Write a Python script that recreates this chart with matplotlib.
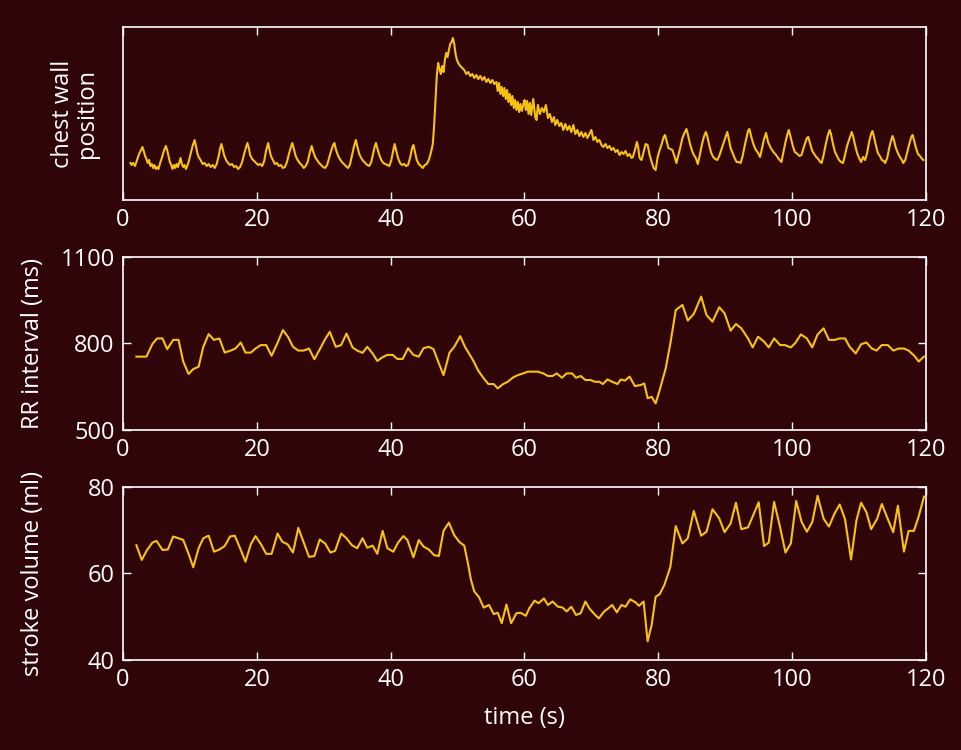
import matplotlib
matplotlib.use("Agg")
import matplotlib.pyplot as plt

# ---------------- data ----------------
chest_t = [1.1,1.3,1.5,1.8,2.1,2.4,2.7,2.9,3.1,3.3,3.5,3.7,3.9,4.1,4.3,4.5,4.7,4.9,5.1,5.3,5.5,5.8,6.1,6.4,6.6,6.8,7.0,7.2,7.4,7.6,7.8,8.0,8.2,8.4,8.6,8.8,9.0,9.2,9.4,9.6,9.8,10.1,10.4,10.7,10.9,11.1,11.3,11.6,11.9,12.2,12.5,12.8,13.1,13.4,13.7,14.0,14.3,14.5,14.7,14.9,15.1,15.4,15.7,16.0,16.3,16.6,16.9,17.2,17.5,17.8,18.1,18.4,18.6,18.8,19.0,19.3,19.6,19.9,20.2,20.5,20.8,21.1,21.4,21.7,21.9,22.1,22.4,22.7,23.0,23.3,23.6,23.9,24.2,24.5,24.8,25.1,25.3,25.5,25.8,26.1,26.4,26.7,27.0,27.3,27.6,27.9,28.2,28.4,28.7,29.0,29.3,29.6,29.9,30.2,30.5,30.8,31.1,31.4,31.6,31.8,32.1,32.4,32.7,33.0,33.3,33.6,33.9,34.2,34.5,34.8,35.0,35.3,35.6,35.9,36.2,36.5,36.8,37.1,37.4,37.6,37.8,38.0,38.3,38.6,38.9,39.2,39.5,39.8,40.1,40.4,40.6,40.8,41.1,41.4,41.7,42.0,42.3,42.6,42.9,43.2,43.4,43.6,43.9,44.2,44.5,44.8,45.1,45.4,45.7,46.0,46.3,46.5,46.7,46.9,47.1,47.3,47.5,47.7,47.9,48.1,48.3,48.5,48.7,48.9,49.1,49.3,49.5,49.7,49.9,50.1,50.4,50.7,51.0,51.3,51.6,51.9,52.2,52.5,52.8,53.1,53.4,53.7,54.0,54.3,54.6,54.9,55.2,55.5,55.8,56.0,56.2,56.4,56.6,56.8,57.0,57.2,57.4,57.6,57.8,58.0,58.2,58.4,58.6,58.8,59.0,59.2,59.4,59.6,59.8,60.0,60.2,60.4,60.6,60.8,61.0,61.3,61.6,61.8,62.0,62.3,62.6,62.9,63.2,63.5,63.8,64.1,64.4,64.6,64.9,65.2,65.5,65.8,66.1,66.4,66.7,67.0,67.3,67.6,67.9,68.2,68.5,68.8,69.1,69.4,69.7,70.0,70.3,70.6,70.9,71.2,71.5,71.8,72.1,72.4,72.7,73.0,73.3,73.6,73.9,74.2,74.5,74.8,75.1,75.4,75.7,76.0,76.2,76.5,76.8,77.0,77.2,77.5,77.8,78.1,78.4,78.7,79.0,79.3,79.6,79.9,80.2,80.5,80.8,81.0,81.2,81.5,81.8,82.1,82.4,82.7,83.0,83.3,83.6,83.9,84.2,84.4,84.7,85.0,85.3,85.6,85.9,86.2,86.5,86.8,87.1,87.3,87.6,87.9,88.2,88.5,88.8,89.1,89.5,89.8,90.1,90.3,90.5,90.8,91.1,91.4,91.7,92.0,92.3,92.6,92.9,93.2,93.4,93.6,93.9,94.2,94.5,94.9,95.2,95.5,95.8,96.1,96.4,96.8,97.2,97.6,98.0,98.4,98.7,99.0,99.3,99.5,99.8,100.1,100.4,100.8,101.1,101.4,101.7,102.0,102.2,102.4,102.7,103.0,103.3,103.6,103.9,104.2,104.4,104.7,105.0,105.3,105.6,105.8,106.1,106.4,106.7,107.0,107.3,107.6,107.9,108.2,108.6,108.9,109.1,109.4,109.7,110.0,110.3,110.6,110.9,111.2,111.5,111.8,112.0,112.2,112.5,112.8,113.1,113.4,113.7,113.9,114.2,114.5,114.8,115.0,115.2,115.5,115.8,116.1,116.4,116.6,116.9,117.2,117.5,117.8,118.0,118.2,118.5,118.8,119.1,119.3,119.6]
chest_v = [37,35,37,34,40,46,50,53,49,44,41,37,40,34,36,32,35,31,33,31,36,42,49,54,50,44,38,35,31,35,32,36,33,37,42,36,33,35,31,34,38,46,54,60,54,47,43,40,36,37,34,36,33,35,32,36,44,51,56,51,45,40,37,35,36,33,34,31,33,38,46,53,57,52,45,41,39,37,35,36,34,39,50,57,50,44,40,36,37,34,35,32,33,38,46,53,57,52,44,40,37,35,32,34,38,47,54,49,43,40,37,35,33,32,35,42,49,55,57,51,45,41,38,36,34,32,35,44,53,60,54,46,42,39,37,35,34,38,47,53,57,52,45,40,37,36,35,34,40,50,56,50,42,37,35,36,34,35,42,52,55,49,40,36,34,32,35,36,40,47,56,75,100,125,137,131,126,134,128,140,147,143,150,156,158,162,156,146,140,137,134,132,130,126,128,124,126,122,125,121,124,120,123,118,121,117,120,116,118,109,117,106,113,104,112,101,110,98,106,95,104,92,100,90,98,88,96,89,95,100,90,99,86,97,85,101,83,80,95,86,92,88,95,82,86,78,83,75,80,74,77,70,76,70,74,68,75,66,70,64,68,63,67,62,66,70,60,63,58,60,55,53,56,52,54,50,52,48,50,45,48,46,49,44,46,42,43,50,58,52,42,40,48,56,55,45,38,32,30,43,50,56,63,65,60,52,51,50,44,37,45,53,62,67,71,66,57,50,45,42,36,45,55,63,68,64,55,47,43,41,40,44,52,58,64,68,62,52,47,42,38,38,37,44,54,63,69,71,63,56,51,47,43,52,61,67,58,52,48,45,41,38,48,58,66,70,62,54,48,46,44,45,52,58,62,63,56,49,46,43,41,38,37,45,55,64,70,66,56,48,44,40,38,37,45,54,62,68,64,55,47,42,38,43,40,47,58,66,69,64,55,47,44,40,39,37,42,52,60,64,60,52,47,43,40,37,40,48,56,63,65,60,52,46,44,42,40]

rr_t = [2.0,3.5,4.4,5.1,5.9,6.6,7.5,8.3,9.0,9.8,10.5,11.3,12.0,12.8,13.6,14.4,15.2,16.1,16.8,17.6,18.3,19.1,19.8,20.6,21.4,22.2,23.1,23.9,24.7,25.4,26.2,27.0,27.8,28.6,29.4,30.2,30.9,31.8,32.6,33.4,34.3,35.0,35.8,36.5,37.3,38.0,38.8,39.5,40.3,41.0,41.8,42.6,43.4,44.2,44.9,45.7,46.4,47.2,47.9,48.8,49.5,50.4,51.1,52.3,53.1,53.9,54.6,55.4,56.0,56.8,57.5,58.3,59.0,59.8,60.5,61.2,62.0,62.8,63.5,64.2,64.8,65.6,66.3,67.1,67.7,68.4,69.1,69.9,70.5,71.2,71.7,72.4,73.1,73.9,74.4,75.0,75.7,76.5,77.4,77.9,78.4,79.0,79.6,80.2,81.1,81.8,82.6,83.6,84.4,85.3,86.4,87.2,88.1,89.1,89.9,90.8,91.6,92.4,93.4,94.1,94.9,95.8,96.5,97.3,98.2,98.9,99.8,100.5,101.3,102.2,103.0,103.8,104.7,105.5,106.4,107.1,107.9,108.6,109.5,110.3,111.1,111.9,112.6,113.4,114.3,115.1,115.9,116.7,117.4,118.3,118.9,119.7]
rr_ms = [754,754,798,817,817,780,812,812,737,694,711,719,788,832,812,817,768,775,782,803,768,768,782,794,794,757,802,846,821,788,775,775,782,745,779,814,840,788,794,834,786,775,767,788,765,739,752,760,760,746,746,783,760,754,783,788,780,731,690,768,788,825,788,742,705,679,659,659,644,659,667,682,690,696,702,702,702,696,687,687,696,681,696,696,681,687,673,673,667,667,659,675,667,659,675,671,685,652,656,661,610,615,592,638,713,800,915,933,879,902,962,898,875,925,904,844,867,852,817,786,823,806,786,817,794,794,786,802,831,817,786,831,852,812,812,817,817,788,765,797,803,782,775,794,794,775,782,782,775,756,737,754]

sv_t = [2.0,2.8,3.6,4.4,5.0,5.9,6.7,7.5,8.3,9.0,9.8,10.5,11.3,12.0,12.8,13.6,14.4,15.2,16.0,16.7,17.5,18.3,19.1,19.8,20.7,21.4,22.2,23.1,23.8,24.6,25.4,26.2,27.1,27.8,28.6,29.4,30.2,31.0,31.7,32.6,33.4,34.2,35.0,35.8,36.5,37.3,38.0,38.8,39.5,40.4,41.1,41.9,42.5,43.4,44.2,44.9,45.7,46.5,47.2,47.9,48.7,49.5,50.3,51.0,51.5,52.0,52.5,53.2,53.9,54.7,55.4,56.0,56.6,57.3,58.0,58.8,59.4,60.2,60.7,61.5,62.1,62.9,63.5,64.2,65.0,65.7,66.3,67.0,67.7,68.4,69.1,69.7,70.5,71.1,71.9,72.5,73.1,73.8,74.5,75.1,75.8,76.6,77.1,77.8,78.4,79.0,79.6,80.2,80.9,81.8,82.6,83.6,84.4,85.3,86.4,87.2,88.1,89.1,89.9,90.8,91.6,92.4,93.4,94.2,95.0,95.8,96.5,97.3,98.2,99.0,99.8,100.6,101.4,102.2,103.0,103.8,104.7,105.5,106.3,107.1,107.9,108.8,109.6,110.3,111.1,111.8,112.7,113.4,114.3,115.1,115.8,116.7,117.4,118.2,118.9,119.7]
sv_ml = [66.5,63.1,65.4,67.1,67.5,65.4,65.5,68.5,68.1,67.7,64.5,61.4,65.8,68.1,68.7,65.0,65.5,66.3,68.5,68.7,65.8,62.7,66.7,68.6,66.5,64.5,64.5,69.2,67.3,66.7,64.8,70.5,66.7,63.8,64.0,67.8,66.9,64.8,65.2,69.2,68.1,66.5,65.8,68.1,65.9,66.4,64.5,69.8,65.8,65.0,67.1,68.6,67.7,63.7,67.7,66.2,65.5,64.2,64.0,69.8,71.7,68.8,67.2,66.4,62.7,58.5,55.8,54.5,52.1,52.7,50.6,50.9,48.5,52.8,48.5,50.8,50.9,50.2,51.9,53.7,53.1,54.2,52.7,53.5,52.3,52.1,51.2,52.3,50.4,50.8,53.5,51.9,50.5,49.6,51.2,51.9,52.7,51.0,52.7,52.3,54.0,53.3,52.5,53.5,44.3,48.1,54.6,55.2,57.3,61.5,70.9,66.9,68.1,74.4,68.7,69.6,74.8,72.7,69.5,71.5,76.3,70.2,70.6,73.5,76.4,66.3,67.1,76.5,70.6,64.8,66.9,76.7,71.9,69.6,71.8,77.9,72.6,70.8,73.7,75.9,72.5,63.2,72.2,76.3,74.1,70.2,72.6,76.0,72.5,69.5,75.6,65.0,69.8,69.8,73.1,77.7]

x_ticks = [0, 20, 40, 60, 80, 100, 120]
rr_ticks = [500, 800, 1100]
sv_ticks = [40, 60, 80]

# ---------------- style ----------------
BG = "#300508"
LINE = "#f7c214"
FG = "white"
plt.rcParams["font.family"] = ["Open Sans", "DejaVu Sans"]
FS = 17

fig = plt.figure(figsize=(9.62, 7.5), dpi=100, facecolor=BG)
L, W = 123/962, 803/962
ax1 = fig.add_axes([L, 1-200/750, W, 173/750])
ax2 = fig.add_axes([L, 1-430/750, W, 173.3/750])
ax3 = fig.add_axes([L, 1-660/750, W, 173.3/750])

for ax in (ax1, ax2, ax3):
    ax.set_facecolor(BG)
    for s in ax.spines.values():
        s.set_color(FG)
        s.set_linewidth(1.2)
    ax.tick_params(direction="in", colors=FG, length=5.5, width=1.0,
                   top=True, right=True, labelsize=FS, pad=6)
    ax.set_xlim(0, 120)
    ax.set_xticks(x_ticks)

ax1.plot(chest_t, chest_v, color=LINE, lw=1.5)
ax1.set_ylim(0, 173)
ax1.set_yticks([])
ax1.set_ylabel("chest wall\nposition", color=FG, fontsize=FS, linespacing=1.0)
ax1.yaxis.set_label_coords(-0.030, 0.5)

ax2.plot(rr_t, rr_ms, color=LINE, lw=1.5)
ax2.set_ylim(500, 1100)
ax2.set_yticks(rr_ticks)
ax2.set_ylabel("RR interval (ms)", color=FG, fontsize=FS)
ax2.yaxis.set_label_coords(-0.097, 0.5)

ax3.plot(sv_t, sv_ml, color=LINE, lw=1.5)
ax3.set_ylim(40, 80)
ax3.set_yticks(sv_ticks)
ax3.set_ylabel("stroke volume (ml)", color=FG, fontsize=FS)
ax3.yaxis.set_label_coords(-0.097, 0.5)
ax3.set_xlabel("time (s)", color=FG, fontsize=FS, labelpad=10)

fig.savefig("out.png", dpi=100, facecolor=BG)
